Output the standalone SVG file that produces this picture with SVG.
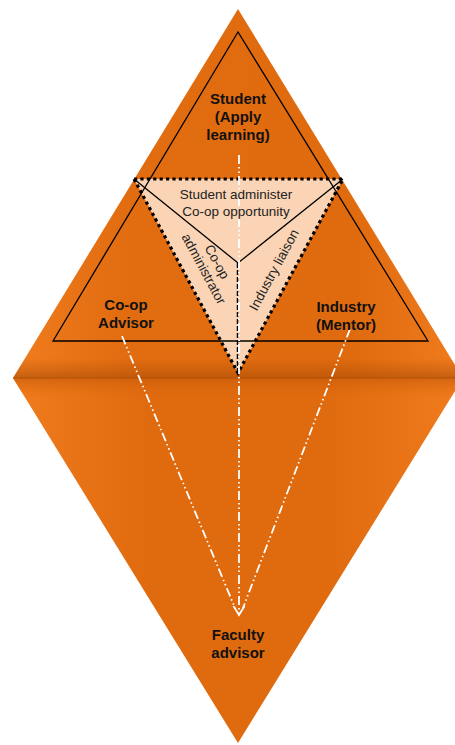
<svg xmlns="http://www.w3.org/2000/svg" width="455" height="745" viewBox="0 0 455 745">
  <defs>
    <linearGradient id="gUpper" x1="0" y1="0" x2="1" y2="0">
      <stop offset="0" stop-color="#F07C1E"/>
      <stop offset="0.25" stop-color="#E26C10"/>
      <stop offset="0.75" stop-color="#E06A0E"/>
      <stop offset="1" stop-color="#F07C1E"/>
    </linearGradient>
    <linearGradient id="gLower" x1="0" y1="0" x2="1" y2="0">
      <stop offset="0" stop-color="#F07C1E"/>
      <stop offset="0.3" stop-color="#E06A0E"/>
      <stop offset="0.7" stop-color="#E06A0E"/>
      <stop offset="1" stop-color="#F07C1E"/>
    </linearGradient>
    <linearGradient id="gFoldTop" x1="0" y1="0" x2="0" y2="1">
      <stop offset="0" stop-color="#B8540A" stop-opacity="0"/>
      <stop offset="1" stop-color="#A84C06" stop-opacity="0.6"/>
    </linearGradient>
    <linearGradient id="gFoldBottom" x1="0" y1="0" x2="0" y2="1">
      <stop offset="0" stop-color="#C95C0A" stop-opacity="0.7"/>
      <stop offset="1" stop-color="#E06A0E" stop-opacity="0"/>
    </linearGradient>
    <marker id="openArrow" markerWidth="14" markerHeight="14" refX="9" refY="7" orient="auto" markerUnits="userSpaceOnUse">
      <path d="M0,1.5 L9,7 L0,12.5" fill="none" stroke="#FFFFFF" stroke-width="1.8"/>
    </marker>
    <style>
      .lbl { font-family: "Liberation Sans", Arial, sans-serif; font-weight: bold; font-size: 15px; fill: #111; text-anchor: middle; }
      .small { font-family: "Liberation Sans", Arial, sans-serif; font-size: 13.5px; fill: #222; text-anchor: middle; }
      .thin { fill: none; stroke: #000; stroke-width: 1.3; }
      .flow { fill: none; stroke: #FFFFFF; stroke-width: 1.8; stroke-dasharray: 9 3 1.5 3 1.5 3; }
    </style>
  </defs>

  <!-- diamond body: upper and lower halves with a fold between -->
  <g id="diamond">
    <polygon points="238,9 13,378 463,378" fill="url(#gUpper)"/>
    <polygon points="13,378 463,378 238,743" fill="url(#gLower)"/>
    <polygon points="25,358 451,358 463,378 13,378" fill="url(#gFoldTop)"/>
    <polygon points="13,378 463,378 451,398 25,398" fill="url(#gFoldBottom)"/>
    <line x1="13" y1="378" x2="463" y2="378" stroke="#B0520A" stroke-width="1"/>
  </g>

  <!-- central light triangle -->
  <g id="core">
    <polygon points="134,179 343,179 238,373" fill="#FAD4B4"/>
  </g>

  <!-- thin outline triangle -->
  <g id="frame">
    <polygon class="thin" points="238,32 53,341 428,341"/>
  </g>

  <!-- inner dividers and dotted border -->
  <g id="dividers">
    <polyline class="thin" points="134,179 238,263 343,179"/>
    <line x1="237.5" y1="263" x2="237.5" y2="373" stroke="#000" stroke-width="1.5" stroke-dasharray="5 2"/>
    <polygon points="134,179 343,179 238,373" fill="none" stroke="#000" stroke-width="3.2" stroke-dasharray="3.2 3.2"/>
  </g>

  <!-- connectors -->
  <g id="connectors">
    <line class="flow" x1="239" y1="155" x2="239" y2="615" marker-end="url(#openArrow)"/>
    <line class="flow" x1="122" y1="336" x2="235" y2="608"/>
    <line class="flow" x1="350" y1="329" x2="243" y2="608"/>
  </g>

  <!-- labels -->
  <g id="student">
    <text class="lbl" x="238" y="104">Student</text>
    <text class="lbl" x="238" y="122">(Apply</text>
    <text class="lbl" x="238" y="140">learning)</text>
  </g>
  <g id="student-admin">
    <text class="small" x="236" y="199">Student administer</text>
    <text class="small" x="236" y="216">Co-op opportunity</text>
  </g>
  <g id="coop-admin">
    <g transform="translate(213,264) rotate(61.7)">
      <text class="small" x="0" y="0">Co-op</text>
      <text class="small" x="0" y="15">administrator</text>
    </g>
  </g>
  <g id="industry-liaison">
    <g transform="translate(278,272) rotate(-61.7)">
      <text class="small" x="0" y="0">Industry liaison</text>
    </g>
  </g>
  <g id="coop-advisor">
    <text class="lbl" x="126" y="310">Co-op</text>
    <text class="lbl" x="126" y="328">Advisor</text>
  </g>
  <g id="industry">
    <text class="lbl" x="346" y="312">Industry</text>
    <text class="lbl" x="346" y="330">(Mentor)</text>
  </g>
  <g id="faculty">
    <text class="lbl" x="238" y="640">Faculty</text>
    <text class="lbl" x="238" y="658">advisor</text>
  </g>
</svg>
